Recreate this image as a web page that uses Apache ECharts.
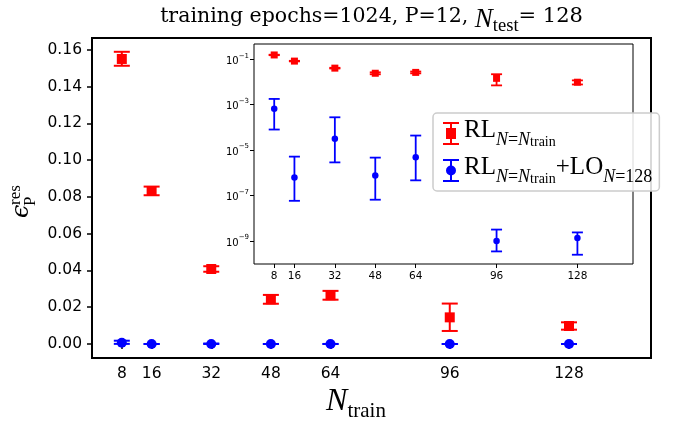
<!DOCTYPE html>
<html><head><meta charset="utf-8">
<script src="https://cdn.jsdelivr.net/npm/echarts@6/dist/echarts.min.js"></script>
<style>html,body{margin:0;padding:0;background:#fff}#c{width:673px;height:421px}</style>
</head><body><div id="c"></div>
<script>
// ---- data ----
const nTrain = [8, 16, 32, 48, 64, 96, 128];
const xTickLabels = [8, 16, 32, 48, 64, 96, 128];
const yTicksMain = [0, 0.02, 0.04, 0.06, 0.08, 0.10, 0.12, 0.14, 0.16];
const yTicksInset = [1e-9, 1e-7, 1e-5, 1e-3, 1e-1];
// RL_{N=N_train}
const rlMean = [0.155, 0.0832, 0.0408, 0.0243, 0.0265, 0.0145, 0.0098];
const rlLow  = [0.1513, 0.0809, 0.0393, 0.0219, 0.0241, 0.0071, 0.0078];
const rlHigh = [0.1589, 0.0856, 0.0423, 0.0267, 0.0289, 0.0220, 0.0118];
// RL_{N=N_train} + LO_{N=128}
const loMean = [6.6e-4, 6.3e-7, 3.2e-5, 7.6e-7, 4.9e-6, 1.0e-9, 1.35e-9];
const loLow  = [8.1e-5, 5.9e-8, 2.9e-6, 6.6e-8, 4.7e-7, 3.5e-10, 2.5e-10];
const loHigh = [1.8e-3, 5.2e-6, 2.8e-4, 4.7e-6, 4.4e-5, 3.2e-9, 2.4e-9];

const NAME_RL = 'RL';
const NAME_LO = 'RL+LO';
const RED = '#ff0000', BLUE = '#0000ff';

const chart = echarts.init(document.getElementById('c'), null, {renderer: 'canvas'});

function errBars(cap, lw, color) {
  return function (params, api) {
    const x = api.value(0), lo = api.value(1), hi = api.value(2);
    const a = api.coord([x, lo]), b = api.coord([x, hi]);
    const st = {stroke: color, lineWidth: lw};
    return {type: 'group', children: [
      {type: 'line', shape: {x1: a[0], y1: a[1], x2: b[0], y2: b[1]}, style: st},
      {type: 'line', shape: {x1: a[0] - cap, y1: a[1], x2: a[0] + cap, y2: a[1]}, style: st},
      {type: 'line', shape: {x1: b[0] - cap, y1: b[1], x2: b[0] + cap, y2: b[1]}, style: st}
    ]};
  };
}
const rlErr = nTrain.map((x, i) => [x, rlLow[i], rlHigh[i]]);
const loErr = nTrain.map((x, i) => [x, loLow[i], loHigh[i]]);
const rlPts = nTrain.map((x, i) => [x, rlMean[i]]);
const loPts = nTrain.map((x, i) => [x, loMean[i]]);

const iconRL = 'path://M0,0H16V2H9V6H13V17H9V21H16V23H0V21H7V17H3V6H7V2H0Z';
const iconLO = 'path://M0,0H16V2H9V21H16V23H0V21H7V2H0Z M3,11.5A5,5 0 1 1 13,11.5A5,5 0 1 1 3,11.5Z';

const tickFont = {fontFamily: 'DejaVu Sans', color: '#000'};

const option = {
  animation: false,
  backgroundColor: '#fff',
  grid: [
    {left: 92, top: 38, width: 559, height: 320, show: true, borderColor: '#000', borderWidth: 2, backgroundColor: 'transparent', z: 0},
    {left: 254, top: 44, width: 379, height: 220, show: true, borderColor: '#000', borderWidth: 1, backgroundColor: '#fff', z: 5}
  ],
  xAxis: [
    {type: 'value', gridIndex: 0, min: 0, max: 150,
     axisLine: {show: false}, splitLine: {show: false},
     axisTick: {show: true, length: 5, lineStyle: {color: '#000', width: 1.5}, customValues: xTickLabels},
     axisLabel: {customValues: xTickLabels, fontSize: 15.5, margin: 8, ...tickFont}},
    {type: 'value', gridIndex: 1, min: 0, max: 150, z: 6,
     axisLine: {show: false}, splitLine: {show: false},
     axisTick: {show: true, length: 4, lineStyle: {color: '#000', width: 1}, customValues: xTickLabels},
     axisLabel: {customValues: xTickLabels, fontSize: 10.5, margin: 7, ...tickFont}}
  ],
  yAxis: [
    {type: 'value', gridIndex: 0, min: -0.0076, max: 0.1664,
     axisLine: {show: false}, splitLine: {show: false},
     axisTick: {show: true, length: 5, lineStyle: {color: '#000', width: 1.5}, customValues: yTicksMain},
     axisLabel: {customValues: yTicksMain, fontSize: 15.5, margin: 10, ...tickFont,
       formatter: v => v.toFixed(2)}},
    {type: 'log', gridIndex: 1, min: Math.pow(10, -10.01), max: Math.pow(10, -0.327), z: 6,
     axisLine: {show: false}, splitLine: {show: false}, minorTick: {show: false},
     axisTick: {show: true, length: 4, lineStyle: {color: '#000', width: 1}, customValues: yTicksInset},
     axisLabel: {customValues: yTicksInset, margin: 5, ...tickFont,
       formatter: v => {
         const e = Math.round(Math.log10(v));
         return '{b|10}{s|' + (e < 0 ? '−' : '') + Math.abs(e) + '}';
       },
       rich: {
         b: {fontFamily: 'DejaVu Sans', fontSize: 10, color: '#000', lineHeight: 14, verticalAlign: 'bottom'},
         s: {fontFamily: 'DejaVu Sans', fontSize: 7, color: '#000', lineHeight: 14, verticalAlign: 'top', padding: [0, 0, 5, 0]}
       }}}
  ],
  legend: {
    orient: 'vertical', left: 433, top: 113, z: 20,
    padding: [5, 7, 5, 10], itemGap: 6, itemWidth: 16, itemHeight: 23,
    backgroundColor: 'rgba(255,255,255,0.85)', borderColor: '#cccccc', borderWidth: 1.5, borderRadius: 4,
    selectedMode: false,
    data: [
      {name: NAME_RL, icon: iconRL, itemStyle: {color: RED}},
      {name: NAME_LO, icon: iconLO, itemStyle: {color: BLUE}}
    ],
    formatter: name => name === NAME_RL
      ? '{rl|RL}{si|N}{su|=}{si|N}{tr|train}'
      : '{rl|RL}{si|N}{su|=}{si|N}{tr|train}{rl|+LO}{si|N}{su|=128}',
    textStyle: {
      rich: {
        rl: {fontFamily: 'Liberation Serif', fontSize: 25, color: '#000', lineHeight: 31, verticalAlign: 'top'},
        si: {fontFamily: 'Liberation Serif', fontStyle: 'italic', fontSize: 18, color: '#000', lineHeight: 12, verticalAlign: 'bottom'},
        su: {fontFamily: 'Liberation Serif', fontSize: 18, color: '#000', lineHeight: 12, verticalAlign: 'bottom'},
        tr: {fontFamily: 'Liberation Serif', fontSize: 14, color: '#000', lineHeight: 5, verticalAlign: 'bottom'}
      }
    }
  },
  graphic: [
    {type: 'text', x: 371.5, y: 21, z: 10, style: {
      text: '{a|training epochs=1024, P=12, }{n|N}{t|test}{b|= 128}',
      align: 'center', verticalAlign: 'middle',
      rich: {
        a: {fontFamily: 'DejaVu Serif', fontSize: 20.5, fill: '#000', lineHeight: 30, verticalAlign: 'top'},
        n: {fontFamily: 'Liberation Serif', fontStyle: 'italic', fontSize: 27, fill: '#000', lineHeight: 30, verticalAlign: 'top'},
        t: {fontFamily: 'Liberation Serif', fontSize: 18.5, fill: '#000', lineHeight: 13, verticalAlign: 'bottom'},
        b: {fontFamily: 'DejaVu Serif', fontSize: 21, fill: '#000', lineHeight: 30, verticalAlign: 'top'}
      }}},
    {type: 'text', x: 356, y: 404, z: 10, style: {
      text: '{n|N}{t|train}', align: 'center', verticalAlign: 'middle',
      rich: {
        n: {fontFamily: 'Liberation Serif', fontStyle: 'italic', fontSize: 32, fill: '#000', lineHeight: 36, verticalAlign: 'top'},
        t: {fontFamily: 'Liberation Serif', fontSize: 21, fill: '#000', lineHeight: 16, verticalAlign: 'bottom'}
      }}},
    {type: 'group', x: 22, y: 218, rotation: Math.PI / 2, z: 10, children: [
      {type: 'text', x: 0, y: 0, style: {text: 'ϵ', fontFamily: 'DejaVu Serif', fontStyle: 'italic', fontSize: 24, fill: '#000', align: 'left', verticalAlign: 'middle'}},
      {type: 'text', x: 13, y: -6, style: {text: 'res', fontFamily: 'Liberation Serif', fontSize: 17, fill: '#000', align: 'left', verticalAlign: 'middle'}},
      {type: 'text', x: 12, y: 9, style: {text: 'P', fontFamily: 'Liberation Serif', fontSize: 17, fill: '#000', align: 'left', verticalAlign: 'middle'}}
    ]}
  ],
  series: [
    {type: 'custom', name: NAME_RL, xAxisIndex: 0, yAxisIndex: 0, renderItem: errBars(8, 2, RED), data: rlErr, encode: {x: 0, y: [1, 2]}, z: 2},
    {type: 'scatter', name: NAME_RL, xAxisIndex: 0, yAxisIndex: 0, symbol: 'rect', symbolSize: 10, itemStyle: {color: RED, opacity: 1}, data: rlPts, z: 3},
    {type: 'custom', name: NAME_LO, xAxisIndex: 0, yAxisIndex: 0, renderItem: errBars(8, 2, BLUE), data: loErr, encode: {x: 0, y: [1, 2]}, z: 4},
    {type: 'scatter', name: NAME_LO, xAxisIndex: 0, yAxisIndex: 0, symbol: 'circle', symbolSize: 10, itemStyle: {color: BLUE, opacity: 1}, data: loPts, z: 5},
    {type: 'custom', name: NAME_RL, xAxisIndex: 1, yAxisIndex: 1, renderItem: errBars(5.5, 1.8, RED), data: rlErr, encode: {x: 0, y: [1, 2]}, z: 12},
    {type: 'scatter', name: NAME_RL, xAxisIndex: 1, yAxisIndex: 1, symbol: 'rect', symbolSize: 7, itemStyle: {color: RED, opacity: 1}, data: rlPts, z: 13},
    {type: 'custom', name: NAME_LO, xAxisIndex: 1, yAxisIndex: 1, renderItem: errBars(5.5, 1.8, BLUE), data: loErr, encode: {x: 0, y: [1, 2]}, z: 14},
    {type: 'scatter', name: NAME_LO, xAxisIndex: 1, yAxisIndex: 1, symbol: 'circle', symbolSize: 6.5, itemStyle: {color: BLUE, opacity: 1}, data: loPts, z: 15}
  ]
};
chart.setOption(option);
</script>
</body></html>
